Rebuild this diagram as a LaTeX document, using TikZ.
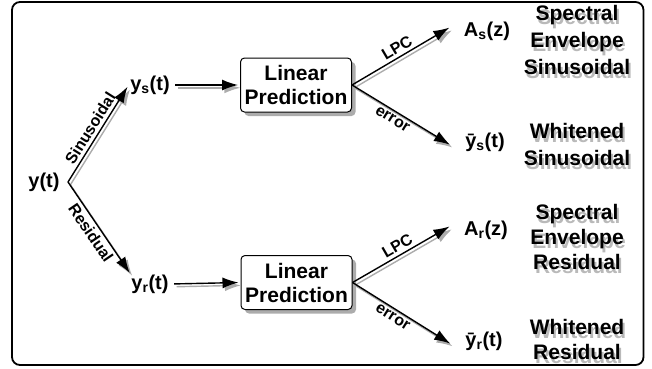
\documentclass[tikz,border=0pt]{standalone}
\usepackage{fontspec}
\setmainfont{Liberation Sans}
\usetikzlibrary{arrows.meta,shadows}
\begin{document}
\begin{tikzpicture}[x=1pt,y=-1pt,
  sig/.style={font=\bfseries\fontsize{20}{22}\selectfont, inner sep=1.5pt},
  box/.style={draw, rounded corners=4pt, line width=1pt, fill=white,
    minimum width=111pt, minimum height=54pt, inner sep=0pt, align=center,
    font=\bfseries\fontsize{21}{24}\selectfont,
    drop shadow={shadow xshift=4pt, shadow yshift=-4pt, fill=gray!65, opacity=1}},
  rtxt/.style={font=\bfseries\fontsize{21}{#1}\selectfont, align=center, inner sep=0pt},
  rsh/.style={rtxt=#1, text=gray!55},
  alab/.style={font=\bfseries\fontsize{16}{17}\selectfont, sloped, inner sep=3pt},
  arr/.style={line width=1.4pt, -{Latex[length=16pt,width=11pt]}},
  sha/.style={arr, draw=gray!65, fill=gray!65, transform canvas={shift={(2.4pt,-2.8pt)}}}
]
\useasboundingbox (0,0) rectangle (652,368);
\draw[line width=1.8pt, rounded corners=8pt] (12,2) rectangle (643.5,365);

% signal nodes
\node[sig] (yt) at (44,182) {y(t)};
\coordinate (sp) at (68,182);
\node[sig] (ys) at (150,85) {y\textsubscript{s}(t)};
\node[sig] (yr) at (150,284) {y\textsubscript{r}(t)};
\node[box] (lp1) at (296,85) {Linear\\Prediction};
\node[box] (lp2) at (296.5,282.5) {Linear\\Prediction};
\node[sig] (As) at (487,31) {A\textsubscript{s}(z)};
\node[sig] (ysb) at (485,142) {ȳ\textsubscript{s}(t)};
\node[sig] (Ar) at (486,230) {A\textsubscript{r}(z)};
\node[sig] (yrb) at (484,341) {ȳ\textsubscript{r}(t)};

% right-hand labels with shadows
\node[rsh=27] (t1s) at (579,44) {Spectral\\Envelope\\Sinusoidal};
\node[rtxt=27] (t1) at (577,40) {Spectral\\Envelope\\Sinusoidal};
\node[rsh=27] (t2s) at (579,148) {Whitened\\Sinusoidal};
\node[rtxt=27] (t2) at (577,144) {Whitened\\Sinusoidal};
\node[rsh=25] (t3s) at (579,241) {Spectral\\Envelope\\Residual};
\node[rtxt=25] (t3) at (577,237) {Spectral\\Envelope\\Residual};
\node[rsh=25] (t4s) at (579,343) {Whitened\\Residual};
\node[rtxt=25] (t4) at (577,339) {Whitened\\Residual};

% shadows of connectors
\draw[sha, shorten >=2pt] (sp) -- (ys.west);
\draw[sha] (sp) -- (yr.north west);
\draw[sha, shorten <=4pt, shorten >=2pt] (ys.east) -- (lp1.west);
\draw[sha, shorten <=4pt, shorten >=2pt] (yr.east) -- (lp2.west);
\draw[sha, shorten >=15pt] (lp1.east) -- (As.north west);
\draw[sha, shorten >=16pt] (lp1.east) -- (ysb.south west);
\draw[sha, shorten >=15pt] (lp2.east) -- (Ar.north west);
\draw[sha, shorten >=16pt] (lp2.east) -- (yrb.south west);

% connectors
\draw[arr, shorten >=2pt] (sp) -- node[alab, above] {Sinusoidal} (ys.west);
\draw[arr] (sp) -- node[alab, below] {Residual} (yr.north west);
\draw[arr, shorten <=4pt, shorten >=2pt] (ys.east) -- (lp1.west);
\draw[arr, shorten <=4pt, shorten >=2pt] (yr.east) -- (lp2.west);
\draw[arr, shorten >=15pt] (lp1.east) -- node[alab, above, pos=0.45] {LPC} (As.north west);
\draw[arr, shorten >=16pt] (lp1.east) -- node[alab, below, pos=0.4] {error} (ysb.south west);
\draw[arr, shorten >=15pt] (lp2.east) -- node[alab, above, pos=0.45] {LPC} (Ar.north west);
\draw[arr, shorten >=16pt] (lp2.east) -- node[alab, below, pos=0.4] {error} (yrb.south west);
\end{tikzpicture}
\end{document}
